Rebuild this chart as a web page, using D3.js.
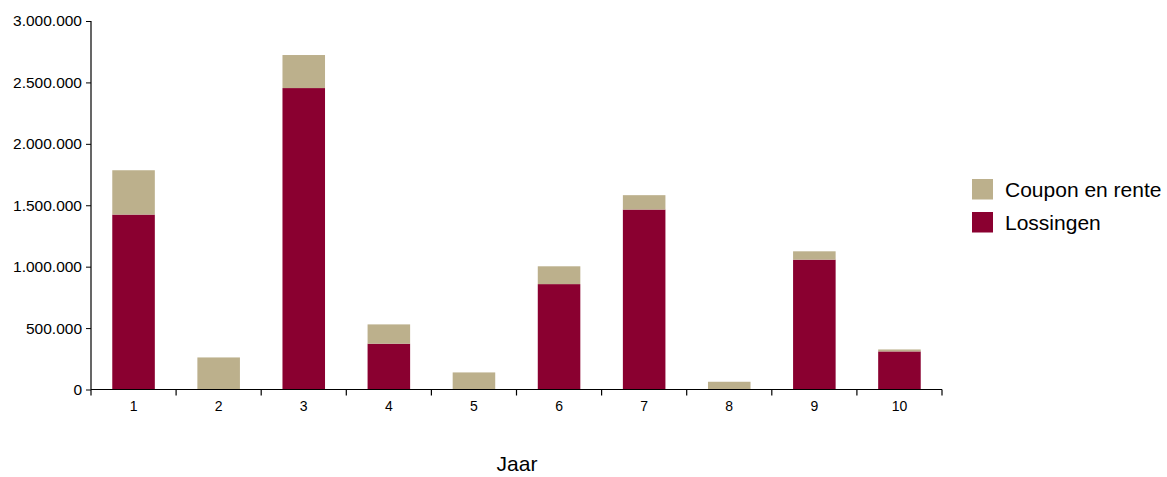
<!DOCTYPE html>
<html><head><meta charset="utf-8">
<script src="https://cdn.jsdelivr.net/npm/d3@7"></script>
<style>body{margin:0;background:#fff}svg{font-family:"Liberation Sans",Arial,sans-serif}</style>
</head><body><svg id="c" width="1167" height="477"></svg>
<script>
const categories = ["1","2","3","4","5","6","7","8","9","10"];
const lossingen = [1424000, 0, 2454000, 373000, 0, 858000, 1465000, 0, 1057000, 310000];
const coupon = [361000, 261000, 269000, 157000, 139000, 145000, 117000, 63000, 68000, 16000];
const seriesNames = ["Lossingen", "Coupon en rente"];
const seriesColors = ["#8a0030", "#bcb08c"];
const yTicks = [0, 500000, 1000000, 1500000, 2000000, 2500000, 3000000];

const svg = d3.select("#c");
const x = d3.scaleBand().domain(categories).range([91, 942]).paddingInner(0.5).paddingOuter(0.25);
const y = d3.scaleLinear().domain([0, 3000000]).range([389.5, 21]);
const fmt = v => d3.format(",")(v).replace(/,/g, ".");

const data = categories.map((c, i) => ({cat: c, Lossingen: lossingen[i], "Coupon en rente": coupon[i]}));
const stack = d3.stack().keys(seriesNames)(data);
svg.append("g").selectAll("g").data(stack).join("g")
  .attr("fill", (d, i) => seriesColors[i])
  .selectAll("rect").data(d => d).join("rect")
  .attr("x", d => x(d.data.cat))
  .attr("width", x.bandwidth())
  .attr("y", d => y(d[1]))
  .attr("height", d => Math.max(0, y(d[0]) - y(d[1])));

// y axis
const ya = svg.append("g").attr("transform", "translate(91,0)")
  .call(d3.axisLeft(y).tickValues(yTicks).tickFormat(fmt).tickSize(5).tickPadding(4));
ya.select(".domain").attr("stroke", "#000").attr("stroke-width", 1.2).attr("d", "M0," + y(3000000) + "V" + y(0));
ya.selectAll("text").attr("font-size", 15.5).attr("fill", "#000").attr("font-family", "Liberation Sans, Arial, sans-serif");

// x axis: ticks at band boundaries
const xa = svg.append("g").attr("transform", "translate(0," + y(0) + ")");
xa.append("line").attr("x1", 91).attr("x2", 942).attr("stroke", "#000").attr("stroke-width", 1.2);
const bw = (x.range()[1] - x.range()[0]) / categories.length;
xa.selectAll(".tk").data(d3.range(categories.length + 1)).join("line")
  .attr("x1", i => x.range()[0] + i * bw).attr("x2", i => x.range()[0] + i * bw)
  .attr("y1", 0).attr("y2", 6).attr("stroke", "#000").attr("stroke-width", 1.2);
xa.selectAll(".lb").data(categories).join("text")
  .attr("x", d => x(d) + x.bandwidth() / 2).attr("y", 21)
  .attr("text-anchor", "middle").attr("font-size", 14).text(d => d);

svg.append("text").attr("x", 517).attr("y", 471).attr("text-anchor", "middle").attr("font-size", 21).text("Jaar");

// legend
const legend = [{name: "Coupon en rente", color: seriesColors[1]}, {name: "Lossingen", color: seriesColors[0]}];
const lg = svg.append("g").selectAll("g").data(legend).join("g")
  .attr("transform", (d, i) => "translate(972," + (179 + i * 33) + ")");
lg.append("rect").attr("width", 21).attr("height", 20.5).attr("fill", d => d.color);
lg.append("text").attr("x", 33).attr("y", 18).attr("font-size", 21).text(d => d.name);
</script></body></html>
